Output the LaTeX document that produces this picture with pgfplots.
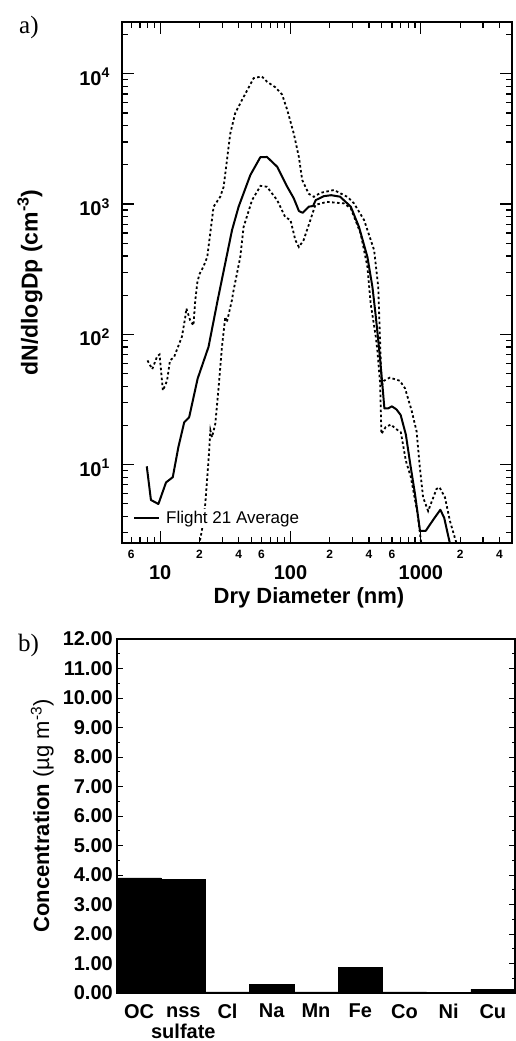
\documentclass[border=0pt]{standalone}
\usepackage{fontspec}
\setmainfont{Liberation Sans}
\newfontfamily\seriffont{Liberation Serif}
\usepackage{pgfplots}
\pgfplotsset{compat=1.18}
\begin{document}
\begin{tikzpicture}[x=1pt,y=1pt]
\useasboundingbox (0,0) rectangle (515,-1041);
\node[anchor=north west, inner sep=0pt, font=\seriffont\fontsize{25}{25}\selectfont] at (19,-16) {a)};
\node[anchor=north west, inner sep=0pt, font=\seriffont\fontsize{25}{25}\selectfont] at (18,-634) {b)};
\begin{axis}[
  at={(122pt,-543pt)}, anchor=south west,
  scale only axis, width=390pt, height=521pt,
  xmode=log, ymode=log,
  xmin=5.1, xmax=5000, ymin=2.5, ymax=25000,
  axis line style={line width=1.6pt},
  every tick/.style={black, line width=1.2pt},
  major tick length=12pt, minor tick length=6pt,
  tick align=inside,
  xtick={10,100,1000},
  xticklabels={10,100,1000},
  minor xtick={7,8,9,30,50,70,80,90,300,500,700,800,900,3000},
  extra x ticks={6,20,40,60,200,400,600,2000,4000},
  extra x tick labels={6,2,4,6,2,4,6,2,4},
  extra x tick style={major tick length=6pt,
     xticklabel style={font=\bfseries\fontsize{12}{12}\selectfont, yshift=15pt}},
  xticklabel style={font=\bfseries\fontsize{20}{20}\selectfont, inner sep=0pt, anchor=north, yshift=-22pt},
  ytick={10,100,1000,10000},
  yticklabels={\textbf{10\textsuperscript{1}},\textbf{10\textsuperscript{2}},\textbf{10\textsuperscript{3}},\textbf{10\textsuperscript{4}}},
  minor ytick={3,4,5,6,7,8,9,20,30,40,50,60,70,80,90,200,300,400,500,600,700,800,900,2000,3000,4000,5000,6000,7000,8000,9000,20000},
  yticklabel style={font=\bfseries\fontsize{20}{20}\selectfont, inner sep=0pt, anchor=east, xshift=-12pt, yshift=-3pt},
  xlabel={\bfseries Dry Diameter (nm)},
  xlabel style={at={(axis description cs:0.5,0)}, anchor=north, yshift=-44pt, xshift=-8pt, inner sep=0pt, font=\fontsize{22}{22}\selectfont},
  ylabel={\bfseries dN/dlogDp (cm\textsuperscript{-3})},
  ylabel style={at={(axis description cs:-0.236,0.5)}, anchor=center, inner sep=0pt, font=\fontsize{23}{23}\selectfont},
  legend style={draw=none, fill=white, at={(0.028,0.048)}, anchor=west, inner sep=0pt, font=\fontsize{17}{17}\selectfont},
  legend cell align=left,
  legend image code/.code={\draw[#1] (0pt,0pt) -- (25pt,0pt);},
]
\addplot[black, line width=1.8pt, dash pattern=on 2.5pt off 2.5pt, forget plot] coordinates {
(8.0,63) (8.7,54) (9.5,68) (9.9,70) (10.5,37) (11.3,44) (11.9,63) (12.8,67) (14.7,96)
(15.6,136) (15.9,158) (17,128) (18,117) (18.6,182) (19.3,250) (20,289) (21.5,331) (23,393)
(25.7,955) (28.9,1137) (30.7,1358) (34.5,3470) (37.7,5000) (42.5,6310) (52.2,9270)
(60.3,9550) (66,8700) (76.7,7880) (86.3,6920) (94.4,5280) (106,3470) (116,2290) (123,1530)
(138,1200) (151,1137) (170,1220) (215,1282) (273,1137) (307,1012) (367,753) (438,443)
(471,231) (485,96) (500,40) (520,44) (578,46.5) (690,44) (756,38.5) (849,26) (927,18)
(982,9.5) (1040,5.6) (1137,4.4) (1318,6.5) (1390,6.7) (1530,5.6) (1670,3.7) (1830,2.7) (1900,2.4)
};
\addplot[black, line width=1.8pt, dash pattern=on 2.5pt off 2.5pt, forget plot] coordinates {
(19.5,2.2) (20.9,3.1) (22.2,5.0) (23.6,11.4) (24.3,18.3) (25,16.2) (26.5,20.6) (28.1,39.3)
(29.8,80) (31.6,136) (32.5,124) (35.5,182) (36.6,218) (41.2,393) (43.7,668) (50.7,1072)
(58.9,1380) (66,1358) (79,1072) (91,795) (100,753) (109,528) (116,468) (126,528) (142,753)
(155,985) (190,1040) (257,1012) (290,927) (345,596) (389,330) (412,172) (451,96) (464,75)
(487,42) (498,17.2) (537,19.4) (588,20.3) (643,18.8) (702,17.7) (767,10.7) (838,8)
(943,4.2) (1000,2.6) (1030,2.3)
};
\addplot[black, line width=2pt, line join=round] coordinates {
(7.9,9.7) (8.5,5.35) (9.7,4.98) (11.1,7.3) (12.5,8.0) (13.8,13.6) (15.3,21.1) (16.7,23.1)
(19.4,45.7) (23.5,80) (27.6,182) (35.6,631) (40,955) (49.2,1671) (58.7,2290) (66,2300)
(79,1936) (94.4,1358) (106,1107) (116,884) (124,857) (138,955) (149,967) (156,1072)
(180,1150) (205,1170) (240,1140) (290,955) (335,668) (389,393) (425,231) (450,140)
(468,96) (490,60) (510,38) (525,27) (560,27) (600,28) (650,26.5) (700,24) (767,17)
(830,10) (900,6) (985,3.1) (1090,3.1) (1250,3.8) (1410,4.5) (1510,3.9) (1600,3) (1700,2.3)
};
\addlegendentry{\hspace{4pt}Flight 21 Average}
\end{axis}
\begin{axis}[
  at={(117pt,-993pt)}, anchor=south west,
  scale only axis, width=398pt, height=354pt,
  xmin=-0.5, xmax=8.5, ymin=0, ymax=12,
  axis line style={line width=1.6pt},
  every tick/.style={black, line width=1pt},
  major tick length=6pt, minor tick length=3pt,
  tick align=inside,
  ytick={0,1,2,3,4,5,6,7,8,9,10,11,12},
  yticklabels={0.00,1.00,2.00,3.00,4.00,5.00,6.00,7.00,8.00,9.00,10.00,11.00,12.00},
  minor ytick={0.5,1.5,2.5,3.5,4.5,5.5,6.5,7.5,8.5,9.5,10.5,11.5},
  yticklabel style={font=\bfseries\fontsize{20}{20}\selectfont, inner sep=0pt, anchor=east, xshift=-4pt},
  xtick={0,1,2,3,4,5,6,7,8},
  xticklabels={\strut OC,\strut nss\\sulfate,\strut Cl,\strut Na,\strut Mn,\strut Fe,\strut Co,\strut Ni,\strut Cu},
  xtick style={draw=none},
  xticklabel style={font=\bfseries\fontsize{20}{19}\selectfont, align=center, inner sep=0pt, anchor=north, yshift=-11pt},
  ylabel={\textbf{Concentration} (µg m\textsuperscript{-3})},
  ylabel style={at={(axis description cs:-0.188,0.5)}, anchor=center, inner sep=0pt, font=\fontsize{22}{22}\selectfont},
]
\addplot[ybar, bar width=1, fill=black, draw=black] coordinates {
(0,3.9) (1,3.86) (2,0.04) (3,0.3) (4,0.04) (5,0.86) (6,0.04) (7,0.02) (8,0.12)
};
\end{axis}
\end{tikzpicture}
\end{document}
